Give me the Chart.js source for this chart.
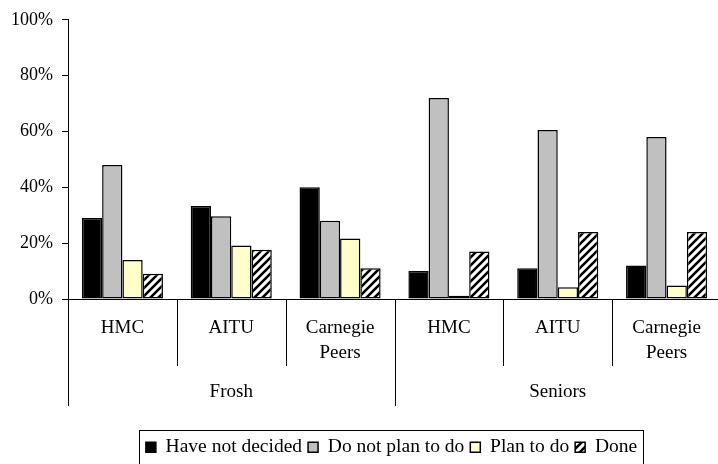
<!DOCTYPE html>
<html>
<head>
<meta charset="utf-8">
<script src="https://cdn.jsdelivr.net/npm/chart.js@4/dist/chart.umd.min.js"></script>
<style>
  html, body { margin: 0; padding: 0; background: #fff; overflow: hidden; }
  #wrap { width: 722px; height: 464px; }
</style>
</head>
<body>
<div id="wrap"><canvas id="c" width="722" height="464"></canvas></div>
<script>
// Schools within each class year, and the class years they belong to
const schools = [['HMC'], ['AITU'], ['Carnegie', 'Peers'], ['HMC'], ['AITU'], ['Carnegie', 'Peers']];
const groups = ['Frosh', 'Seniors'];

// Share of respondents (%) per answer
const haveNotDecided = [29, 33.3, 40, 10, 11, 12];
const doNotPlanToDo  = [48, 29.6, 28, 72, 60.5, 58];
const planToDo       = [14, 19.2, 21.7, 1.2, 4.2, 4.8];
const done           = [9, 17.6, 11, 17, 24, 24];

const seriesNames = ['Have not decided', 'Do not plan to do', 'Plan to do', 'Done'];
const yTickValues = [0, 20, 40, 60, 80, 100];

const SERIF = '"Liberation Serif"';
const PLOT_LEFT = 68;     // x of the value axis line
const PLOT_BOTTOM = 299;  // y of the category axis line
const LEGEND_SHIFT = 31;  // legend sits right of the canvas centre
const LEGEND_DROP = 3;    // and a little lower than Chart.js puts it

// Diagonal black/white hatch for the "Done" series
function hatch() {
  const s = 8;
  const c = document.createElement('canvas');
  c.width = s; c.height = s;
  const g = c.getContext('2d');
  g.fillStyle = '#fff';
  g.fillRect(0, 0, s, s);
  g.strokeStyle = '#000';
  g.lineWidth = 2.6;
  g.beginPath();
  g.moveTo(-2, s + 2); g.lineTo(s + 2, -2);
  g.moveTo(-2, 2); g.lineTo(2, -2);
  g.moveTo(s - 2, s + 2); g.lineTo(s + 2, s - 2);
  g.stroke();
  return g.createPattern(c, 'repeat');
}

// Second label row (class year) with separators, and a frame round the legend
const groupAxis = {
  id: 'groupAxis',
  afterLayout(chart) {
    chart.legend.left += LEGEND_SHIFT;
    chart.legend.right += LEGEND_SHIFT;
    chart.legend.top += LEGEND_DROP;
    chart.legend.bottom += LEGEND_DROP;
  },
  afterDraw(chart) {
    const x = chart.scales.x;
    const ctx = chart.ctx;
    const base = chart.chartArea.bottom;
    const step = x.getPixelForValue(1) - x.getPixelForValue(0);
    const per = schools.length / groups.length;
    ctx.save();
    ctx.strokeStyle = '#000';
    ctx.lineWidth = 1;
    for (let i = 0; i <= schools.length; i++) {
      const px = Math.round(x.getPixelForValue(i) - step / 2) + 0.5;
      const outer = i % per === 0;
      ctx.beginPath();
      ctx.moveTo(px, base);
      ctx.lineTo(px, base + (outer ? 107 : 67));
      ctx.stroke();
    }
    ctx.fillStyle = '#000';
    ctx.font = '19px ' + SERIF;
    ctx.textAlign = 'center';
    ctx.textBaseline = 'middle';
    groups.forEach((g, gi) => {
      const cx = (x.getPixelForValue(gi * per) + x.getPixelForValue(gi * per + per - 1)) / 2;
      ctx.fillText(g, cx, base + 93);
    });

    const boxes = chart.legend.legendHitBoxes;
    if (boxes && boxes.length) {
      const l = Math.min(...boxes.map(b => b.left)) - 7;
      const r = Math.max(...boxes.map(b => b.left + b.width)) + 6;
      const mid = boxes[0].top + boxes[0].height / 2;
      const t = mid - 17;
      const b2 = mid + 17;
      ctx.strokeRect(Math.round(l) + 0.5, Math.round(t) + 0.5, Math.round(r - l), Math.round(b2 - t));
    }
    ctx.restore();
  }
};

const fills = ['#000000', '#c0c0c0', '#ffffcc', hatch()];
const values = [haveNotDecided, doNotPlanToDo, planToDo, done];

new Chart(document.getElementById('c'), {
  type: 'bar',
  data: {
    labels: schools,
    datasets: seriesNames.map((name, i) => ({
      label: name,
      data: values[i],
      backgroundColor: fills[i],
      borderColor: '#000',
      borderWidth: 1.5,
      borderSkipped: false,
      categoryPercentage: 0.745,
      barPercentage: 1.0
    }))
  },
  options: {
    responsive: false,
    animation: false,
    devicePixelRatio: 1,
    layout: { padding: { top: 19, right: 1, left: 0, bottom: 0 } },
    plugins: {
      tooltip: { enabled: false },
      legend: {
        position: 'bottom',
        labels: {
          color: '#000',
          font: { family: SERIF, size: 19.5 },
          boxWidth: 10,
          boxHeight: 10,
          padding: 6
        }
      }
    },
    scales: {
      x: {
        grid: { display: false },
        border: { display: true, color: '#000', width: 1 },
        ticks: {
          color: '#000',
          font: { family: SERIF, size: 19, lineHeight: 1.35 },
          padding: 8,
          maxRotation: 0,
          autoSkip: false
        },
        afterFit(scale) {
          scale.height = scale.chart.height - scale.chart.legend.height - PLOT_BOTTOM;
        }
      },
      y: {
        min: 0,
        max: 100,
        afterBuildTicks(scale) {
          scale.ticks = yTickValues.map(v => ({ value: v }));
        },
        grid: { drawOnChartArea: false, drawTicks: true, tickLength: 6, color: '#000' },
        border: { display: true, color: '#000', width: 1 },
        ticks: {
          color: '#000',
          font: { family: SERIF, size: 18 },
          padding: 9,
          callback: v => v + '%'
        },
        afterFit(scale) { scale.width = PLOT_LEFT; }
      }
    }
  },
  plugins: [groupAxis]
});
</script>
</body>
</html>
